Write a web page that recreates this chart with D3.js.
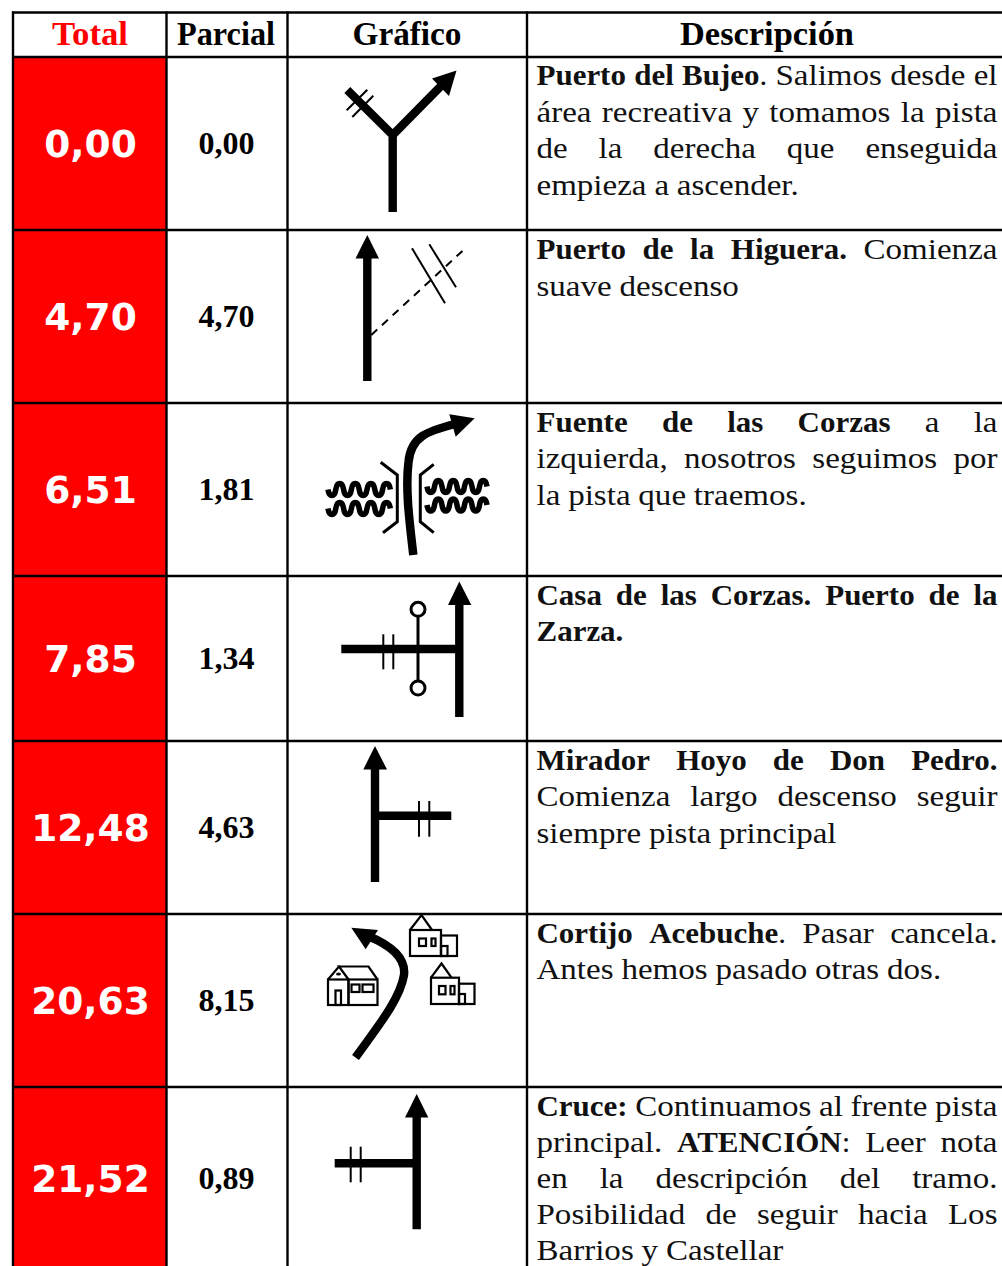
<!DOCTYPE html>
<html>
<head>
<meta charset="utf-8">
<script src="https://cdn.jsdelivr.net/npm/d3@7"></script>
<style>
body { margin: 0; background: #fff; }
svg { display: block; }
.head { font-family: "Liberation Serif", serif; font-weight: bold; font-size: 33px; text-anchor: middle; }
.total { font-family: "DejaVu Sans", sans-serif; font-weight: bold; font-size: 37.5px; fill: #fff; text-anchor: middle; }
.parcial { font-family: "Liberation Serif", serif; font-weight: bold; font-size: 32px; text-anchor: middle; }
.word { font-family: "Liberation Serif", serif; font-size: 29.5px; fill: #111; }
</style>
</head>
<body>
<div id="chart"></div>
<script>
var headers = ["Total", "Parcial", "Gráfico", "Descripción"];
var totals = ["0,00", "4,70", "6,51", "7,85", "12,48", "20,63", "21,52"];
var parciales = ["0,00", "4,70", "1,81", "1,34", "4,63", "8,15", "0,89"];
// *...* = negrita; ultima linea de cada fila sin justificar
var descripciones = [
  ["*Puerto del Bujeo*. Salimos desde el", "área recreativa y tomamos la pista", "de la derecha que enseguida", "empieza a ascender."],
  ["*Puerto de la Higuera.* Comienza", "suave descenso"],
  ["*Fuente de las Corzas* a la", "izquierda, nosotros seguimos por", "la pista que traemos."],
  ["*Casa de las Corzas. Puerto de la*", "*Zarza.*"],
  ["*Mirador Hoyo de Don Pedro.*", "Comienza largo descenso seguir", "siempre pista principal"],
  ["*Cortijo Acebuche*. Pasar cancela.", "Antes hemos pasado otras dos."],
  ["*Cruce:* Continuamos al frente pista", "principal. *ATENCIÓN*: Leer nota", "en la descripción del tramo.", "Posibilidad de seguir hacia Los", "Barrios y Castellar"]
];

var width = 1002, height = 1266;
var colEdges = [13, 166.5, 287.5, 527, 1010];
var rowEdges = [57, 230, 403, 576, 741, 914, 1087, 1275];
var lineHeight = 36.5;
var textLeft = 536.5, textRight = 997.5;
var stretchNormal = 1.12, stretchBold = 1.05;

var svg = d3.select("#chart").append("svg")
  .attr("width", width)
  .attr("height", height);

var rows = d3.range(totals.length);
var rowTop = d3.scaleOrdinal().domain(rows).range(rowEdges);
var rowBottom = d3.scaleOrdinal().domain(rows).range(rowEdges.slice(1));

// celdas rojas
svg.selectAll(".rojo")
  .data(rows)
  .enter()
  .append("rect")
  .attr("class", "rojo")
  .attr("x", colEdges[0])
  .attr("y", function(d) { return rowTop(d); })
  .attr("width", colEdges[1] - colEdges[0])
  .attr("height", function(d) { return rowBottom(d) - rowTop(d); })
  .attr("fill", "#ff0000");

// cabecera
var headCenters = [90, 226, 407, 767];
var headWidths = [76, 98, 109, 174];
svg.selectAll(".head")
  .data(headers)
  .enter()
  .append("text")
  .attr("class", "head")
  .attr("x", function(d, i) { return headCenters[i]; })
  .attr("y", 45)
  .attr("textLength", function(d, i) { return headWidths[i]; })
  .attr("lengthAdjust", "spacingAndGlyphs")
  .attr("fill", function(d, i) { return i === 0 ? "#ff0000" : "#000"; })
  .text(function(d) { return d; });

var numberY = [157, 330, 503, 672, 841, 1014, 1192];

svg.selectAll(".total")
  .data(totals)
  .enter()
  .append("text")
  .attr("class", "total")
  .attr("x", 90.5)
  .attr("y", function(d, i) { return numberY[i]; })
  .text(function(d) { return d; });

svg.selectAll(".parcial")
  .data(parciales)
  .enter()
  .append("text")
  .attr("class", "parcial")
  .attr("x", 226.5)
  .attr("y", function(d, i) { return numberY[i] - 3; })
  .text(function(d) { return d; });

// descripciones: cada palabra se coloca a mano para justificar
function parseLine(line) {
  var bold = false, words = [[]];
  line.split("*").forEach(function(part, p) {
    bold = p % 2 === 1;
    part.split(" ").forEach(function(w, i) {
      if (i > 0) words.push([]);
      if (w) words[words.length - 1].push({ t: w, bold: bold });
    });
  });
  return words.filter(function(w) { return w.length; });
}

var firstBaseline = [85.3, 259, 431.7, 604.7, 769.7, 942.7, 1115.7];
var textLayer = svg.append("g");

descripciones.forEach(function(lines, r) {
  lines.forEach(function(line, l) {
    var words = parseLine(line);
    // la ultima fila queda cortada por abajo, algo mas apretada
    var y = firstBaseline[r] + l * (r === 6 ? 36 : lineHeight);
    var nodes = words.map(function(runs) {
      var t = textLayer.append("text").attr("class", "word").attr("y", 0);
      runs.forEach(function(run) {
        t.append("tspan")
          .attr("font-weight", run.bold ? "bold" : "normal")
          .text(run.t);
      });
      return t;
    });
    var stretches = words.map(function(runs) { return runs[0].bold ? stretchBold : stretchNormal; });
    var widths = nodes.map(function(t, i) { return t.node().getComputedTextLength() * stretches[i]; });
    var sum = d3.sum(widths);
    var justified = l < lines.length - 1;
    var gap = justified ? (textRight - textLeft - sum) / (words.length - 1) : 7.8;
    var x = textLeft;
    nodes.forEach(function(t, i) {
      t.attr("transform", "translate(" + x + "," + y + ") scale(" + stretches[i] + ",1)");
      x += widths[i] + gap;
    });
  });
});

// rejilla
var grid = svg.append("g").attr("stroke", "#000").attr("stroke-width", 2.4);
[12.5].concat(rowEdges.slice(0, 7)).forEach(function(y, i) {
  grid.append("line")
    .attr("x1", colEdges[0] - 1).attr("x2", width)
    .attr("y1", y).attr("y2", y);
});
colEdges.slice(0, 4).forEach(function(x) {
  grid.append("line")
    .attr("x1", x).attr("x2", x)
    .attr("y1", 11.5).attr("y2", height);
});

// simbolos del roadbook
var sym = svg.append("g");

function road(d, w) {
  sym.append("path").attr("d", d)
    .attr("fill", "none").attr("stroke", "#000")
    .attr("stroke-width", w || 8.4);
}
function head(pts) {
  sym.append("polygon").attr("points", pts).attr("fill", "#000");
}
function thin(x1, y1, x2, y2, w, dash) {
  sym.append("line")
    .attr("x1", x1).attr("y1", y1).attr("x2", x2).attr("y2", y2)
    .attr("stroke", "#000").attr("stroke-width", w || 2)
    .attr("stroke-dasharray", dash || null);
}
function wave(x0, y0, n, step, amp) {
  var p = d3.path();
  p.moveTo(x0, y0);
  for (var i = 0; i < n; i++) {
    var s = i % 2 === 0 ? 1 : -1;
    p.bezierCurveTo(x0 + i * step + step * 0.15, y0 + s * amp * 1.33, x0 + (i + 1) * step - step * 0.15, y0 + s * amp * 1.33, x0 + (i + 1) * step, y0);
  }
  road(p.toString(), 5.5);
}
function house(body, roof, parts) {
  var g = sym.append("g").attr("fill", "none").attr("stroke", "#000").attr("stroke-width", 2.2);
  g.append("polyline").attr("points", roof);
  parts.concat([body]).forEach(function(r) {
    g.append("rect").attr("x", r[0]).attr("y", r[1]).attr("width", r[2]).attr("height", r[3]);
  });
  return g;
}

// fila 0
road("M392.7,212 V135 L347.3,90");
road("M392.7,135 L441,86");
head("456.5,70.5 432,78.5 449,96");
thin(367.3, 89.7, 346.7, 110.3);
thin(373.3, 95.7, 352.3, 117);

// fila 1
road("M367.3,381 V255");
head("367.3,235 355.5,258.5 379,258.5");
thin(371.3, 335, 462.7, 250.7, 2, "8 6.5");
thin(412, 248.3, 445, 303.3);
thin(429.3, 244.3, 456, 287.3);

// fila 2
road("M413.3,555 C410,525 405,490 408.5,462 C411,436 428,431 455,424", 8.5);
head("474.7,418.3 449.3,414.3 455.7,436.7");
road("M380.7,462.3 L397.3,475 V521.7 L383,532.7", 3);
road("M433.7,464.3 L420.3,475 V521.7 L433.7,532.7", 3);
wave(328, 489.5, 8, 7.8, 6);
wave(328, 508.5, 8, 7.8, 6);
wave(427, 486.5, 8, 7.5, 6);
wave(427, 505, 8, 7.5, 6);

// fila 3
road("M459.3,717 V600");
head("459.3,581.5 448,605 471.3,605");
road("M341.3,649 H459");
thin(383.3, 634.3, 383.3, 669.3);
thin(393.3, 634.3, 393.3, 669.3);
thin(418, 616, 418, 681, 3);
sym.append("circle").attr("cx", 418).attr("cy", 609.3).attr("r", 7).attr("fill", "#fff").attr("stroke", "#000").attr("stroke-width", 3);
sym.append("circle").attr("cx", 418).attr("cy", 688).attr("r", 7).attr("fill", "#fff").attr("stroke", "#000").attr("stroke-width", 3);

// fila 4
road("M375,882 V765");
head("375,746 363.3,769.5 387,769.5");
road("M375,815.7 H451.3");
thin(419, 801, 419, 836.7);
thin(429.3, 801, 429.3, 836.7);

// fila 5
road("M355.5,1057.5 C375,1030 400,1000 404,975 C406,958 390,945 368,936");
head("351.3,927.7 378,930 365.7,949.3");
house([328, 979.5, 20.5, 25.5], "328,979.5 339,966.5 348.5,979.5 339,966.5 368.5,966.5 377.5,979.5",
  [[348.5, 979.5, 29, 25.5], [335.5, 990.5, 5.5, 14.5], [351.5, 984.5, 8, 7.5], [362.5, 984.5, 11, 7.5]]);
house([410, 930, 31, 26], "410,930 421.5,915 432,930",
  [[441, 935.5, 16, 20.5], [441, 946, 6.5, 10], [419, 938.5, 7, 7.5], [431.5, 938.5, 4, 7.5]]);
house([431, 977.7, 28, 26.3], "431,977.7 441.5,963.5 451.5,977.7",
  [[459, 983.7, 15.5, 20.3], [459, 994, 6, 10], [439, 986, 6.5, 8.3], [450.5, 986, 4, 8.3]]);
sym.append("ellipse").attr("cx", 338.5).attr("cy", 974).attr("rx", 2.5).attr("ry", 1.5).attr("fill", "#000");

// fila 6
road("M416.7,1229.3 V1112");
head("416.7,1094 405,1117.5 428.3,1117.5");
road("M334.7,1163.3 H417");
thin(350.7, 1146.7, 350.7, 1182.3);
thin(360.7, 1146.7, 360.7, 1182.3);
</script>
</body>
</html>
